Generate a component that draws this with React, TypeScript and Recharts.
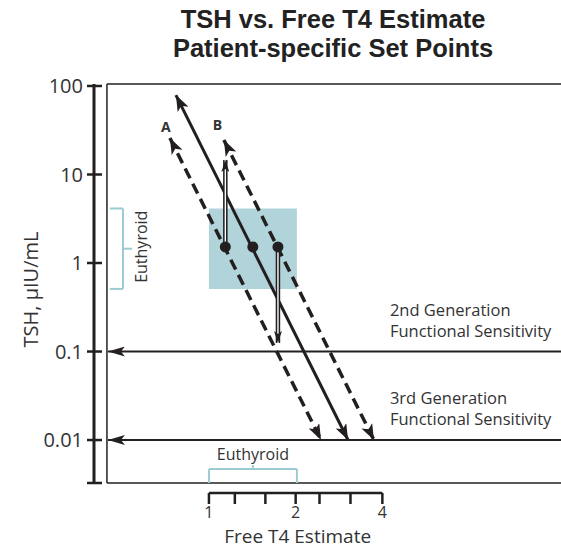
import React from "react";
import {
  ComposedChart,
  Line,
  Scatter,
  XAxis,
  YAxis,
  ReferenceArea,
  ReferenceLine,
  ReferenceDot,
} from "recharts";

const FONT = "'Open Sans', 'Noto Sans', sans-serif";
const TITLE_FONT = "'Liberation Sans', Arial, sans-serif";
const INK = "#231f20";
const TEXT = "#333333";
const BOX = "#b0d4d9";
const BRACKET = "#9ccbd2";

// log axes: free T4 estimate (x) and TSH (y)
const ft4Domain = [0.399, 16.68];
const tshDomain = [0.00327, 105.3];
const ft4Ticks = [1, 1.23, 1.57, 2, 2.42, 3.1, 4];
const ft4Labels: Record<string, string> = { "1": "1", "2": "2", "4": "4" };
const tshTicks = [0.00327, 0.01, 0.1, 1, 10, 100];
const tshLabels: Record<string, string> = {
  "0.01": "0.01",
  "0.1": "0.1",
  "1": "1",
  "10": "10",
  "100": "100",
};

// set-point lines (arrow tip to arrow tip)
const setPointA = [
  { ft4: 0.732, tsh: 25.8 },
  { ft4: 2.45, tsh: 0.01 },
];
const setPointMid = [
  { ft4: 0.768, tsh: 79 },
  { ft4: 3.04, tsh: 0.01 },
];
const setPointB = [
  { ft4: 1.127, tsh: 24.5 },
  { ft4: 3.74, tsh: 0.01 },
];

// patients
const patients = [
  { ft4: 1.14, tsh: 1.52 },
  { ft4: 1.42, tsh: 1.52 },
  { ft4: 1.736, tsh: 1.52 },
];
const riseA = [
  { ft4: 1.14, tsh: 1.52 },
  { ft4: 1.14, tsh: 14.6 },
];
const dropB = [
  { ft4: 1.736, tsh: 1.52 },
  { ft4: 1.736, tsh: 0.125 },
];

// functional sensitivity limits
const sensitivity2 = [
  { ft4: 16.68, tsh: 0.1 },
  { ft4: 0.446, tsh: 0.1 },
];
const sensitivity3 = [
  { ft4: 16.68, tsh: 0.01 },
  { ft4: 0.446, tsh: 0.01 },
];

// reference ranges
const euthyroidFt4 = [1, 2.02];
const euthyroidTsh = [0.51, 4.13];
const leftBracketX = [0.453, 0.503, 0.541];
const bottomBracketY = [0.0047, 0.00522];
const frameLeft = 0.4425;
const xAxisBase = 0.00252;

const titleLines = ["TSH vs. Free T4 Estimate", "Patient-specific Set Points"];

function Note({ viewBox, lines, dx = 0, dy = 0, gap = 21, anchor = "start", size = 16, bold = false, rotate = 0 }: any) {
  if (!viewBox) return null;
  const x = viewBox.x + (viewBox.width || 0) / 2 + dx;
  const y = viewBox.y + (viewBox.height || 0) / 2 + dy;
  return (
    <text
      x={x}
      y={y}
      textAnchor={anchor}
      fontSize={size}
      fontWeight={bold ? 700 : 400}
      fill={TEXT}
      fontFamily={FONT}
      transform={rotate ? `rotate(${rotate} ${x} ${y})` : undefined}
    >
      {lines.map((l: string, i: number) => (
        <tspan key={i} x={x} dy={i === 0 ? 0 : gap}>
          {l}
        </tspan>
      ))}
    </text>
  );
}

function YTitle({ viewBox }: any) {
  if (!viewBox) return null;
  const x = viewBox.x + 38;
  const y = viewBox.y + viewBox.height / 2 + 6;
  return (
    <text x={x} y={y} textAnchor="middle" fontSize={20} fill={TEXT} fontFamily={FONT} transform={`rotate(-90 ${x} ${y})`}>
      TSH, µIU/mL
    </text>
  );
}

function TshTick({ x, y, payload }: any) {
  const label = tshLabels[String(payload.value)];
  return (
    <g>
      <line x1={x - 7} x2={x + 8} y1={y} y2={y} stroke={INK} strokeWidth={2.5} />
      {label && (
        <text x={x - 11} y={y} dy="0.36em" textAnchor="end" fontSize={20} fill={TEXT} fontFamily={FONT}>
          {label}
        </text>
      )}
    </g>
  );
}

function Ft4Tick({ x, y, payload }: any) {
  const label = ft4Labels[String(payload.value)];
  return (
    <g>
      <line x1={x} x2={x} y1={y + 10} y2={y + 21} stroke={INK} strokeWidth={2.5} />
      {label && (
        <text x={x} y={y + 35} textAnchor="middle" fontSize={16} fill={TEXT} fontFamily={FONT}>
          {label}
        </text>
      )}
    </g>
  );
}

const lineBase = { dataKey: "tsh", dot: false, activeDot: false, isAnimationActive: false, legendType: "none" as const };

export default function App() {
  return (
    <div style={{ position: "absolute", left: 0, top: 0, width: 561, height: 549, background: "#fff", fontFamily: FONT }}>
      <ComposedChart width={561} height={549} margin={{ top: 84, right: 0, bottom: 0, left: 0 }}>
        <defs>
          <marker id="headBig" viewBox="0 0 16 12" refX="16" refY="6" markerWidth="16" markerHeight="12" markerUnits="userSpaceOnUse" orient="auto-start-reverse">
            <path d="M0,0 L16,6 L0,12 L4,6 Z" fill={INK} />
          </marker>
          <marker id="headMed" viewBox="0 0 17 10" refX="17" refY="5" markerWidth="17" markerHeight="10" markerUnits="userSpaceOnUse" orient="auto-start-reverse">
            <path d="M0,0 L17,5 L0,10 L4,5 Z" fill={INK} />
          </marker>
          <marker id="headSmall" viewBox="0 0 12 8" refX="12" refY="4" markerWidth="12" markerHeight="8" markerUnits="userSpaceOnUse" orient="auto-start-reverse">
            <path d="M0,0 L12,4 L0,8 L3,4 Z" fill={INK} />
          </marker>
        </defs>
        <XAxis
          dataKey="ft4"
          type="number"
          scale="log"
          domain={ft4Domain}
          allowDataOverflow
          ticks={ft4Ticks}
          interval={0}
          axisLine={false}
          tickLine={false}
          tickSize={0}
          tickMargin={0}
          height={66}
          tick={<Ft4Tick />}
        />
        <YAxis
          dataKey="tsh"
          type="number"
          scale="log"
          domain={tshDomain}
          allowDataOverflow
          ticks={tshTicks}
          interval={0}
          axisLine={{ stroke: INK, strokeWidth: 3 }}
          tickLine={false}
          tickSize={0}
          tickMargin={0}
          width={94}
          tick={<TshTick />}
          label={<YTitle />}
        />

        <ReferenceArea
          x1={euthyroidFt4[0]}
          x2={euthyroidFt4[1]}
          y1={euthyroidTsh[0]}
          y2={euthyroidTsh[1]}
          fill={BOX}
          fillOpacity={1}
          stroke="none"
          ifOverflow="visible"
        />

        {/* frame */}
        <ReferenceLine segment={[{ x: frameLeft, y: tshDomain[0] }, { x: frameLeft, y: tshDomain[1] }]} stroke={INK} strokeWidth={1.5} ifOverflow="visible" />
        <ReferenceLine segment={[{ x: frameLeft, y: tshDomain[1] }, { x: ft4Domain[1], y: tshDomain[1] }]} stroke={INK} strokeWidth={1.5} ifOverflow="visible" />
        <ReferenceLine segment={[{ x: frameLeft, y: tshDomain[0] }, { x: ft4Domain[1], y: tshDomain[0] }]} stroke={INK} strokeWidth={1.5} ifOverflow="visible" />

        {/* free T4 axis line */}
        <ReferenceLine segment={[{ x: 1, y: xAxisBase }, { x: 4, y: xAxisBase }]} stroke={INK} strokeWidth={2.5} ifOverflow="visible" />

        {/* euthyroid brackets */}
        <ReferenceLine segment={[{ x: leftBracketX[1], y: euthyroidTsh[0] }, { x: leftBracketX[1], y: euthyroidTsh[1] }]} stroke={BRACKET} strokeWidth={2} ifOverflow="visible" />
        <ReferenceLine segment={[{ x: leftBracketX[0], y: euthyroidTsh[1] }, { x: leftBracketX[1], y: euthyroidTsh[1] }]} stroke={BRACKET} strokeWidth={2} ifOverflow="visible" />
        <ReferenceLine segment={[{ x: leftBracketX[0], y: euthyroidTsh[0] }, { x: leftBracketX[1], y: euthyroidTsh[0] }]} stroke={BRACKET} strokeWidth={2} ifOverflow="visible" />
        <ReferenceLine segment={[{ x: leftBracketX[1], y: 1.45 }, { x: leftBracketX[2], y: 1.45 }]} stroke={BRACKET} strokeWidth={2} ifOverflow="visible" />
        <ReferenceLine segment={[{ x: euthyroidFt4[0], y: bottomBracketY[0] }, { x: euthyroidFt4[1], y: bottomBracketY[0] }]} stroke={BRACKET} strokeWidth={2} ifOverflow="visible" />
        <ReferenceLine segment={[{ x: euthyroidFt4[0], y: tshDomain[0] }, { x: euthyroidFt4[0], y: bottomBracketY[0] }]} stroke={BRACKET} strokeWidth={2} ifOverflow="visible" />
        <ReferenceLine segment={[{ x: euthyroidFt4[1], y: tshDomain[0] }, { x: euthyroidFt4[1], y: bottomBracketY[0] }]} stroke={BRACKET} strokeWidth={2} ifOverflow="visible" />
        <ReferenceLine segment={[{ x: 1.421, y: bottomBracketY[0] }, { x: 1.421, y: bottomBracketY[1] }]} stroke={BRACKET} strokeWidth={2} ifOverflow="visible" />

        {/* sensitivity limits */}
        <Line {...lineBase} data={sensitivity2} stroke={INK} strokeWidth={2} markerEnd="url(#headMed)" />
        <Line {...lineBase} data={sensitivity3} stroke={INK} strokeWidth={2} markerEnd="url(#headMed)" />

        {/* set points */}
        <Line {...lineBase} data={setPointA} stroke={INK} strokeWidth={3.5} strokeDasharray="11 6" markerStart="url(#headBig)" markerEnd="url(#headBig)" />
        <Line {...lineBase} data={setPointMid} stroke={INK} strokeWidth={3} markerStart="url(#headBig)" markerEnd="url(#headBig)" />
        <Line {...lineBase} data={setPointB} stroke={INK} strokeWidth={3.5} strokeDasharray="11 6" markerStart="url(#headBig)" markerEnd="url(#headBig)" />

        {/* TSH shifts */}
        <Line {...lineBase} data={riseA} stroke={INK} strokeWidth={4.5} />
        <Line {...lineBase} data={riseA} stroke="#ffffff" strokeWidth={1.4} />
        <Line {...lineBase} data={riseA} stroke="none" markerEnd="url(#headSmall)" />
        <Line {...lineBase} data={dropB} stroke={INK} strokeWidth={4.5} />
        <Line {...lineBase} data={dropB} stroke="#ffffff" strokeWidth={1.4} />
        <Line {...lineBase} data={dropB} stroke="none" markerEnd="url(#headSmall)" />

        <Scatter
          data={patients}
          isAnimationActive={false}
          legendType="none"
          shape={(p: any) => <circle cx={p.cx} cy={p.cy} r={5.5} fill={INK} />}
        />

        {/* text */}
        <ReferenceDot x={0.709} y={34.4} r={0} stroke="none" label={<Note lines={["A"]} dy={5} anchor="middle" size={14} bold />} />
        <ReferenceDot x={1.07} y={36.3} r={0} stroke="none" label={<Note lines={["B"]} dy={5} anchor="middle" size={14} bold />} />
        <ReferenceDot x={4.25} y={0.1} r={0} stroke="none" label={<Note lines={["2nd Generation", "Functional Sensitivity"]} dy={-36} size={16.5} />} />
        <ReferenceDot x={4.25} y={0.01} r={0} stroke="none" label={<Note lines={["3rd Generation", "Functional Sensitivity"]} dy={-36} size={16.5} />} />
        <ReferenceDot x={leftBracketX[2]} y={1.45} r={0} stroke="none" label={<Note lines={["Euthyroid"]} dx={15} dy={-2} anchor="middle" size={16} rotate={-90} />} />
        <ReferenceDot x={1.421} y={bottomBracketY[1]} r={0} stroke="none" label={<Note lines={["Euthyroid"]} dy={-5} anchor="middle" size={16} />} />
        <ReferenceDot x={2} y={xAxisBase} r={0} stroke="none" ifOverflow="visible" label={<Note lines={["Free T4 Estimate"]} dx={2} dy={50} anchor="middle" size={19} />} />
      </ComposedChart>
      <div style={{ position: "absolute", left: 83, top: 5, width: 500, color: "#222", fontFamily: TITLE_FONT }}>
        {titleLines.map((t) => (
          <div key={t} style={{ textAlign: "center", fontWeight: 700, fontSize: 25.5, lineHeight: "28.5px", height: 28.5 }}>
            {t}
          </div>
        ))}
      </div>
    </div>
  );
}
